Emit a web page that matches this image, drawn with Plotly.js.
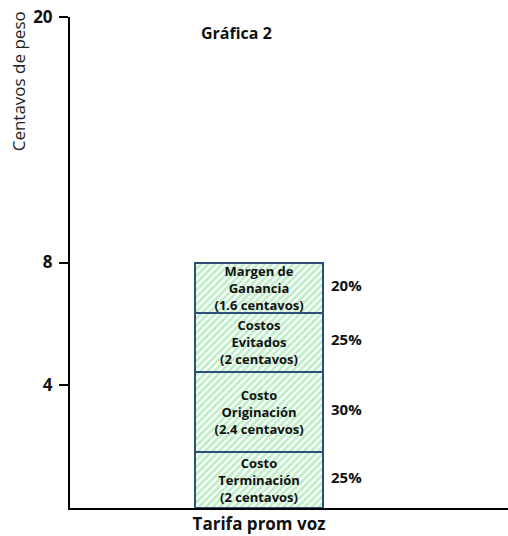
<!DOCTYPE html>
<html>
<head>
<meta charset="utf-8">
<script src="https://cdn.plot.ly/plotly-3.0.1.min.js"></script>
<style>html,body{margin:0;padding:0;background:#fff;}#chart{width:508px;height:536px;}</style>
</head>
<body>
<div id="chart"></div>
<script>
// Data (segment heights as drawn, in centavos)
var category = ['Tarifa prom voz'];
var segmentNames = ['Costo Terminación', 'Costo Originación', 'Costos Evitados', 'Margen de Ganancia'];
var segmentValues = [1.83, 2.61, 1.92, 1.64];
var segmentLabels = [
  'Costo<br>Terminación<br>(2 centavos)',
  'Costo<br>Originación<br>(2.4 centavos)',
  'Costos<br>Evitados<br>(2 centavos)',
  'Margen de<br>Ganancia<br>(1.6 centavos)'
];
var percentLabels = ['25%', '30%', '25%', '20%'];
var yTickVals = [4, 8, 16];
var yTickText = ['4', '8', '20'];

var FONT = '"Open Sans", "Noto Sans", sans-serif';

var traces = segmentValues.map(function (v, i) {
  return {
    type: 'bar',
    name: segmentNames[i],
    x: category,
    y: [v],
    width: 0.6,
    text: [segmentLabels[i]],
    textposition: 'inside',
    insidetextanchor: 'middle',
    constraintext: 'none',
    textangle: 0,
    textfont: {family: FONT, size: 13, color: '#111', weight: 'bold'},
    marker: {
      color: '#bdeec6',
      pattern: {shape: '/', bgcolor: '#bdeec6', fgcolor: '#ffffff', size: 5, solidity: 0.45},
      line: {color: '#2f4f7a', width: 2}
    },
    hoverinfo: 'skip'
  };
});

var annotations = [];
var cum = 0;
segmentValues.forEach(function (v, i) {
  annotations.push({
    x: category[0], xref: 'x', y: cum + v / 2, yref: 'y',
    xshift: 87, yshift: 3,
    text: percentLabels[i], showarrow: false,
    font: {family: FONT, size: 15, color: '#111', weight: 'bold'}
  });
  cum += v;
});
annotations.push({
  text: 'Centavos de peso', xref: 'paper', yref: 'paper',
  x: -0.118, y: 1.0, xanchor: 'center', yanchor: 'top', yshift: 8,
  textangle: -90, showarrow: false,
  font: {family: FONT, size: 17, color: '#222'}
});
annotations.push({
  text: 'Gráfica 2', xref: 'paper', yref: 'paper',
  x: 0.379, y: 1.0, xanchor: 'center', yanchor: 'middle', yshift: -16,
  showarrow: false,
  font: {family: FONT, size: 16, color: '#111', weight: 'bold'}
});

var layout = {
  width: 508, height: 536,
  margin: {l: 70, r: 0, t: 17, b: 28},
  paper_bgcolor: '#fff', plot_bgcolor: '#fff',
  barmode: 'stack',
  showlegend: false,
  xaxis: {
    type: 'category',
    range: [-0.886, 1.167],
    showline: true, linecolor: '#000', linewidth: 2,
    ticks: '', showgrid: false, zeroline: false,
    tickfont: {family: FONT, size: 17, color: '#111', weight: 'bold'},
    ticklabelstandoff: 0,
    fixedrange: true
  },
  yaxis: {
    range: [0, 16],
    tickvals: yTickVals, ticktext: yTickText,
    showline: true, linecolor: '#000', linewidth: 2,
    ticks: 'outside', ticklen: 9, tickwidth: 2, tickcolor: '#000',
    showgrid: false, zeroline: false,
    tickfont: {family: FONT, size: 17, color: '#111', weight: 'bold'},
    ticklabelstandoff: 3,
    fixedrange: true
  },
  annotations: annotations
};

Plotly.newPlot('chart', traces, layout, {displayModeBar: false, staticPlot: true});
</script>
</body>
</html>
